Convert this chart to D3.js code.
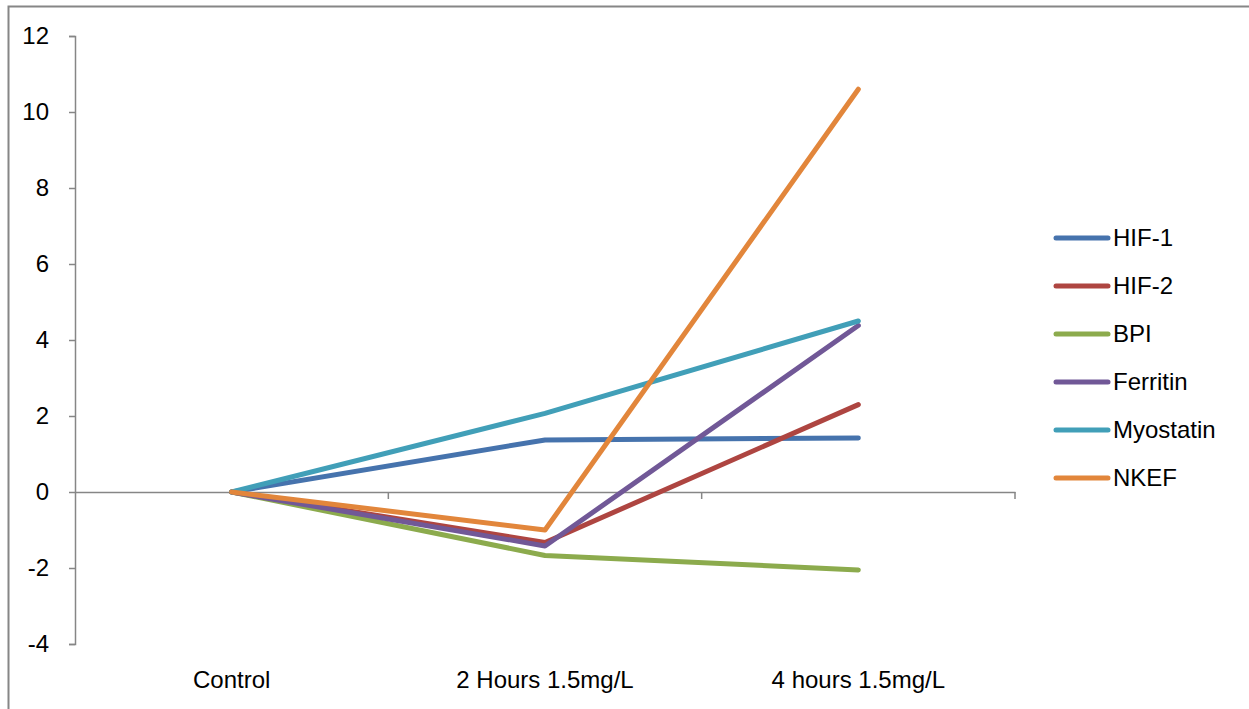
<!DOCTYPE html>
<html><head><meta charset="utf-8">
<script src="https://cdn.jsdelivr.net/npm/d3@7"></script>
<style>body{margin:0;background:#fff;} svg{display:block;} text{font-family:"Liberation Sans","Noto Sans",sans-serif;fill:#000;}</style>
</head><body>
<script>
const categories = ["Control", "2 Hours 1.5mg/L", "4 hours 1.5mg/L"];
const seriesNames = ["HIF-1", "HIF-2", "BPI", "Ferritin", "Myostatin", "NKEF"];
const hif1 = [0, 1.37, 1.42];
const hif2 = [0, -1.33, 2.3];
const bpi = [0, -1.67, -2.05];
const ferritin = [0, -1.42, 4.38];
const myostatin = [0, 2.07, 4.5];
const nkef = [0, -1.0, 10.6];
const yTicks = [-4, -2, 0, 2, 4, 6, 8, 10, 12];
const colors = ["#4673ad", "#ae4541", "#8cab4d", "#715897", "#419fb8", "#e2863b"];

const series = [hif1, hif2, bpi, ferritin, myostatin, nkef];
const W = 1249, H = 709;
const FS = "24px";
const svg = d3.select("body").append("svg").attr("width", W).attr("height", H);

// outer frame
svg.append("rect").attr("x", 8.5).attr("y", 6.5).attr("width", 1260).attr("height", 720)
  .attr("fill", "none").attr("stroke", "#868686").attr("stroke-width", 2);

const mLeft = 75, mRight = 1015, mTop = 36, mBottom = 644;
const x = d3.scaleBand().domain(categories).range([mLeft, mRight]);
const y = d3.scaleLinear().domain([-4, 12]).range([mBottom, mTop]);

// y axis
const yAxis = svg.append("g").attr("transform", `translate(${mLeft},0)`)
  .call(d3.axisLeft(y).tickValues(yTicks).tickSize(6).tickPadding(20).tickFormat(d => String(d)));
yAxis.select(".domain").attr("stroke", "#868686").attr("stroke-width", 1.5);
yAxis.selectAll(".tick line").attr("stroke", "#868686").attr("stroke-width", 1.5);
yAxis.selectAll(".tick text").style("font-size", FS).style("font-family", "Liberation Sans, sans-serif").attr("fill", "#000");

// x axis at zero
const xAxis = svg.append("g").attr("transform", `translate(0,${y(0)})`)
  .call(d3.axisBottom(x).tickSize(0).tickFormat(""));
xAxis.select(".domain").attr("stroke", "#868686").attr("stroke-width", 1.5);
const boundaries = categories.map((c, i) => x(c) + x.bandwidth());
svg.append("g").selectAll("line").data(boundaries).join("line")
  .attr("x1", d => d).attr("x2", d => d).attr("y1", y(0)).attr("y2", y(0) + 7)
  .attr("stroke", "#868686").attr("stroke-width", 1.5);

// category labels
svg.append("g").selectAll("text").data(categories).join("text")
  .attr("x", d => x(d) + x.bandwidth() / 2).attr("y", 688)
  .attr("text-anchor", "middle").style("font-size", FS).text(d => d);

// lines
const line = d3.line().x((d, i) => x(categories[i]) + x.bandwidth() / 2).y(d => y(d));
svg.append("g").selectAll("path").data(series).join("path")
  .attr("d", d => line(d)).attr("fill", "none")
  .attr("stroke", (d, i) => colors[i]).attr("stroke-width", 5)
  .attr("stroke-linejoin", "round").attr("stroke-linecap", "round");

// legend
const lg = svg.append("g");
seriesNames.forEach((n, i) => {
  const yy = 238 + i * 48;
  lg.append("line").attr("x1", 1056).attr("x2", 1108).attr("y1", yy).attr("y2", yy)
    .attr("stroke", colors[i]).attr("stroke-width", 5).attr("stroke-linecap", "round");
  lg.append("text").attr("x", 1113).attr("y", yy + 8).style("font-size", FS).text(n);
});
</script>
</body></html>
